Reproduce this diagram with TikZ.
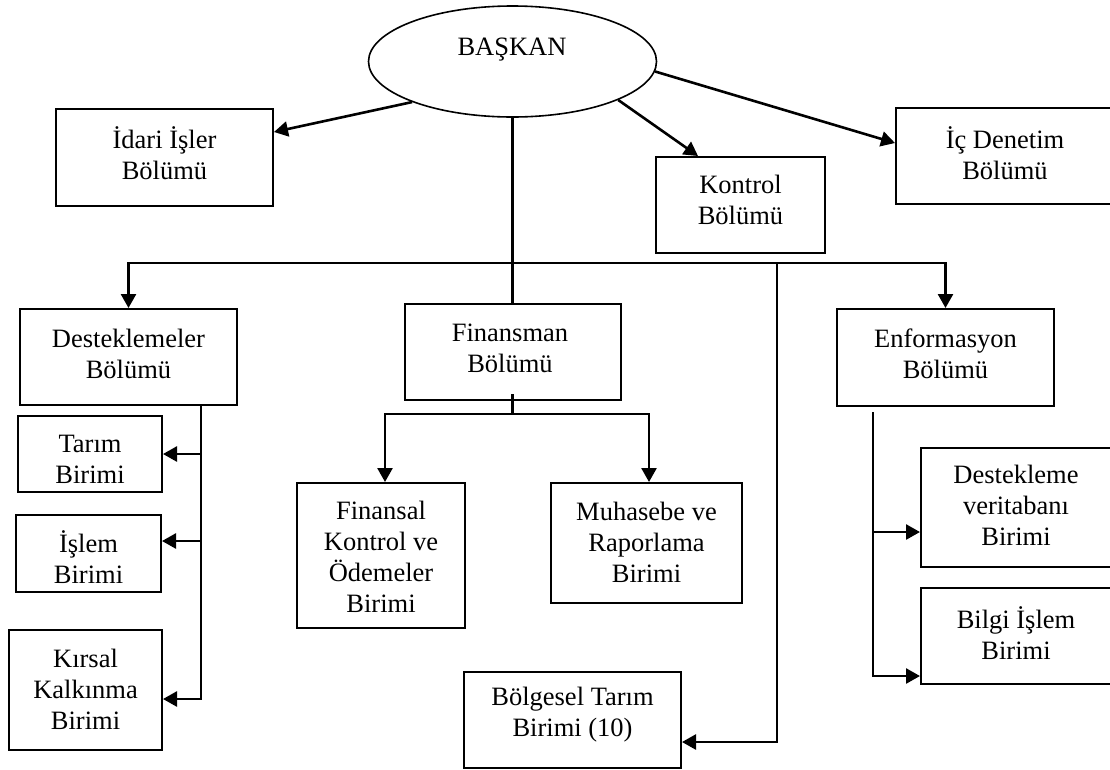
\documentclass[tikz,border=0pt]{standalone}
\usepackage{fontspec}
\setmainfont{Liberation Serif}
\usetikzlibrary{arrows.meta,shapes.geometric}
\begin{document}
\begin{tikzpicture}[x=1pt,y=-1pt,
  box/.style={draw, line width=2pt, rectangle, inner sep=0pt},
  oval/.style={draw, line width=1.6pt, ellipse, inner sep=0pt},
  txt/.style={align=center, inner sep=0pt, font=\fontsize{26.5}{31}\selectfont},
  conn/.style={line width=2.6pt},
  >={Triangle[length=14pt,width=15pt]},
]
\useasboundingbox (0,0) rectangle (1110,769);
\clip (0,0) rectangle (1110,769);

% head of the organisation
\node[oval, minimum width=288pt, minimum height=111pt] (bas) at (512.5,61.5) {};
\node[txt] (tBas) at (512,50) {BAŞKAN};

% first level boxes
\node[box, minimum width=217pt, minimum height=97pt] (idari) at (164.5,157.5) {};
\node[box, minimum width=169pt, minimum height=96pt] (kontrol) at (740.5,205) {};
\node[box, minimum width=218pt, minimum height=96pt] (icd) at (1005,156) {};
\node[box, minimum width=217pt, minimum height=96pt] (destek) at (128.5,357) {};
\node[box, minimum width=216pt, minimum height=96pt] (finans) at (512.5,352) {};
\node[box, minimum width=217pt, minimum height=97pt] (enf) at (945.5,357.5) {};

% units
\node[box, minimum width=144pt, minimum height=76pt] (tarim) at (90,454) {};
\node[box, minimum width=145pt, minimum height=77pt] (islem) at (88.5,553.5) {};
\node[box, minimum width=153pt, minimum height=120pt] (kirsal) at (85.5,690) {};
\node[box, minimum width=168pt, minimum height=145pt] (finansal) at (381,555.5) {};
\node[box, minimum width=191pt, minimum height=120pt] (muhasebe) at (646.5,543) {};
\node[box, minimum width=217pt, minimum height=96pt] (bolgesel) at (572.5,720) {};
\node[box, minimum width=195pt, minimum height=119pt] (destekvt) at (1018.5,507.5) {};
\node[box, minimum width=195pt, minimum height=96pt] (bilgi) at (1018.5,636) {};

% labels
\node[txt] (tIdari) at (164.5,153) {İdari İşler\\Bölümü};
\node[txt] (tKontrol) at (740.5,200) {Kontrol\\Bölümü};
\node[txt] (tIcd) at (1005,153) {İç Denetim\\Bölümü};
\node[txt] (tDestek) at (128.5,353.5) {Desteklemeler\\Bölümü};
\node[txt] (tFinans) at (510,348.5) {Finansman\\Bölümü};
\node[txt] (tEnf) at (945.5,353.5) {Enformasyon\\Bölümü};
\node[txt] (tTarim) at (90,459) {Tarım\\Birimi};
\node[txt] (tIslem) at (88.5,557.5) {İşlem\\Birimi};
\node[txt] (tKirsal) at (85.5,689.5) {Kırsal\\Kalkınma\\Birimi};
\node[txt] (tFinansal) at (381,557) {Finansal\\Kontrol ve\\Ödemeler\\Birimi};
\node[txt] (tMuhasebe) at (646.5,542) {Muhasebe ve\\Raporlama\\Birimi};
\node[txt] (tBolgesel) at (572.5,715) {Bölgesel Tarım\\Birimi (10)};
\node[txt] (tDestekvt) at (1016,505) {Destekleme\\veritabanı\\Birimi};
\node[txt] (tBilgi) at (1016,633) {Bilgi İşlem\\Birimi};

% connectors from the head
\draw[conn,->] (bas.202.7) -- ([yshift=25.5pt]idari.east);
\draw[conn,->] (bas.340.9) -- ([xshift=-42.5pt]kontrol.north);
\draw[conn,->] (bas.356.2) -- ([yshift=13pt]icd.west);

% main trunk and bus
\coordinate (hub) at (512.5,263);
\coordinate (bgtop) at (777,263);
\draw[conn] (bas.south) -- (bas.south |- finans.north);
\draw[conn,<->] (destek.north) |- (hub) -| (enf.north);
\draw[conn,->] (bgtop) |- ([yshift=-22pt]bolgesel.east);

% finance branch
\coordinate (fhub) at (512.5,414);
\draw[conn] ([yshift=7pt]finans.south) -- (fhub);
\draw[conn,<->] ([xshift=4pt]finansal.north) |- (fhub) -| ([xshift=2.5pt]muhasebe.north);

% support branch
\coordinate (dtop) at ([xshift=72.5pt]destek.south);
\coordinate (islemIn) at ([yshift=12.5pt]islem.east);
\draw[conn,->] (dtop) |- ([yshift=-9pt]kirsal.east);
\draw[conn,->] (dtop |- tarim.east) -- (tarim.east);
\draw[conn,->] (dtop |- islemIn) -- (islemIn);

% information branch
\coordinate (etop) at ([xshift=-72.5pt,yshift=-5pt]enf.south);
\coordinate (dvIn) at ([yshift=-24.5pt]destekvt.west);
\coordinate (bilgiIn) at ([yshift=-40pt]bilgi.west);
\draw[conn,->] (etop) |- (bilgiIn);
\draw[conn,->] (etop |- dvIn) -- (dvIn);
\end{tikzpicture}
\end{document}
